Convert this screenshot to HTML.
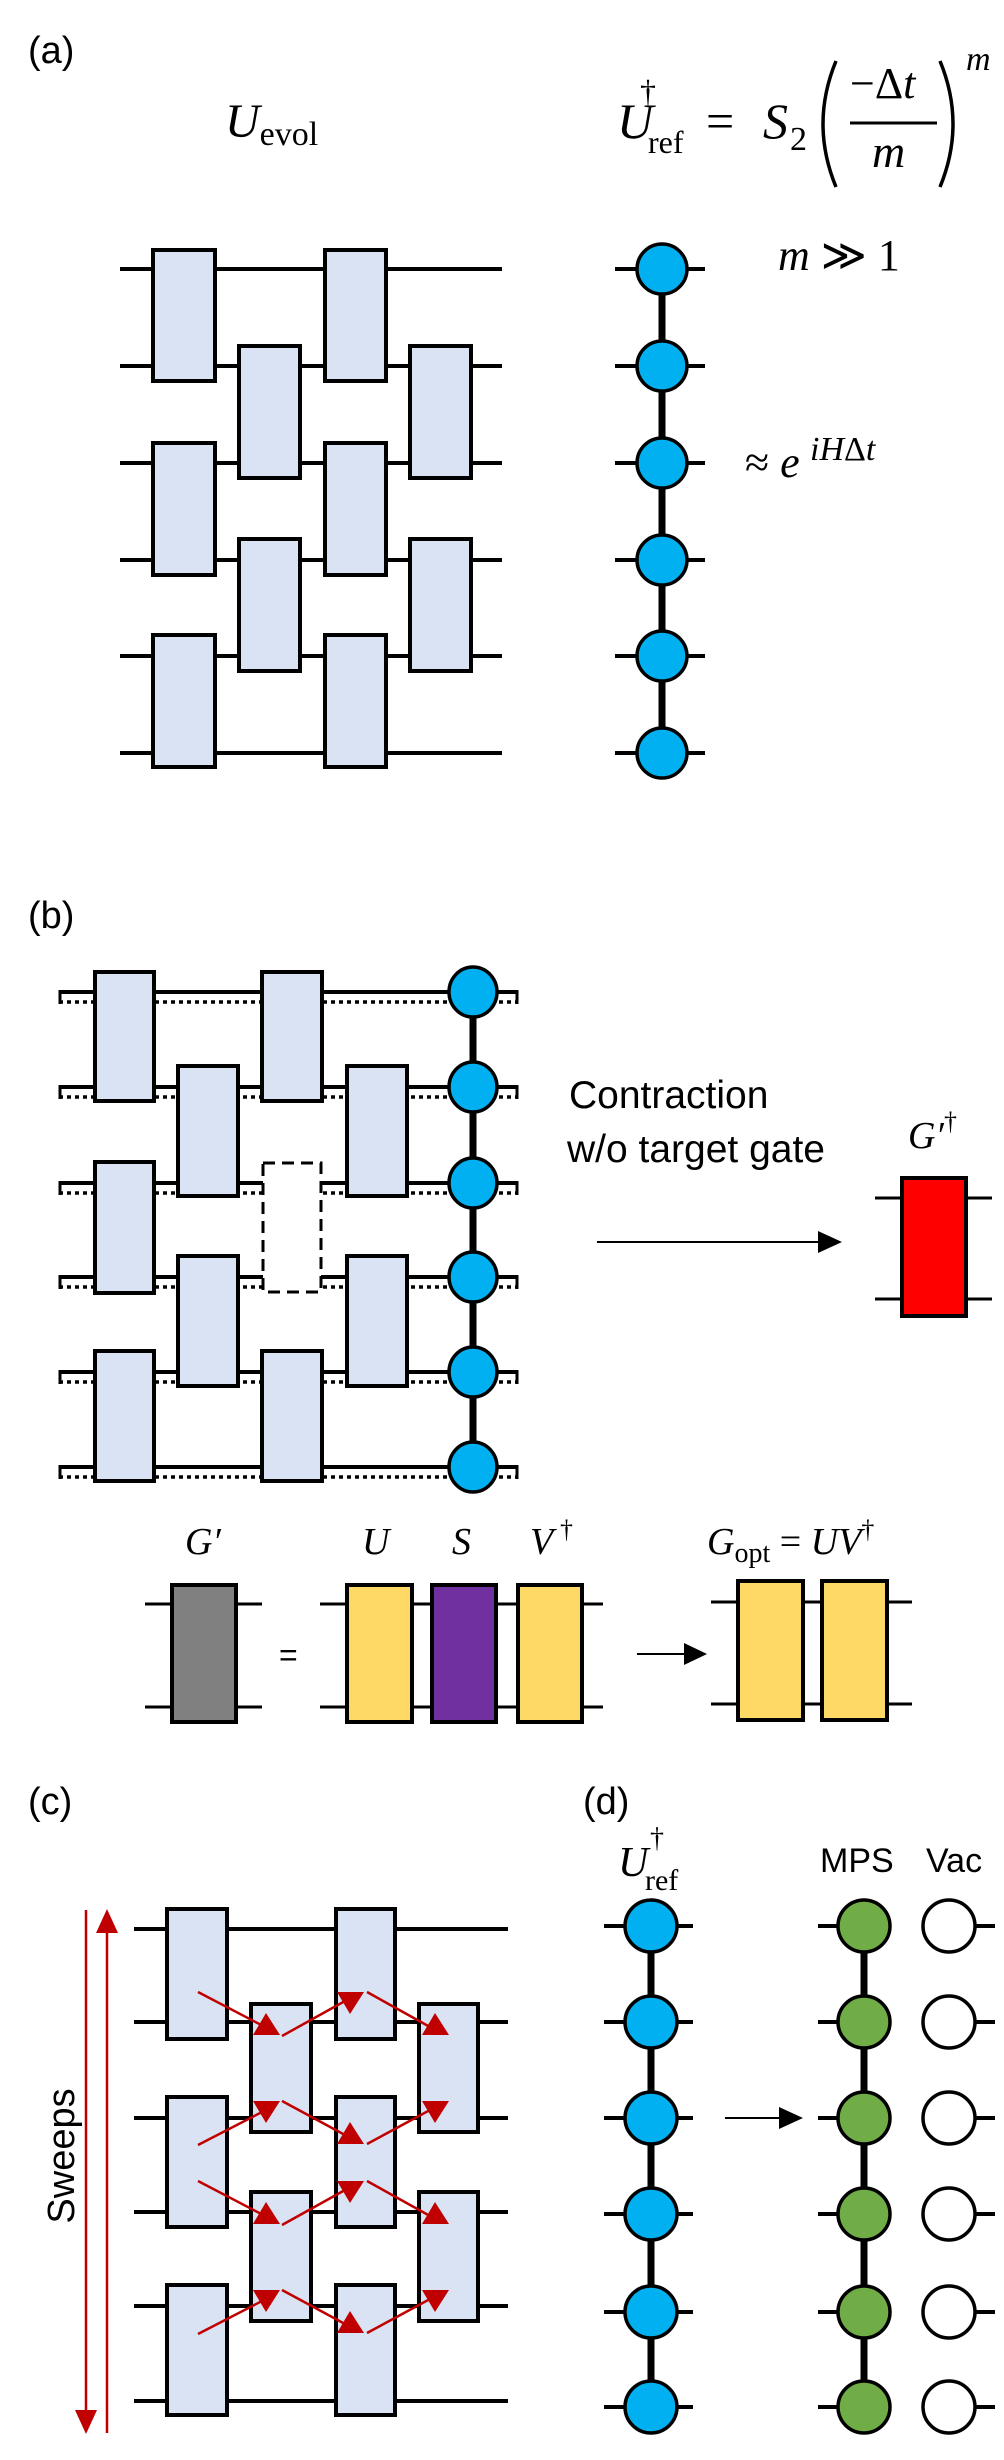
<!DOCTYPE html>
<html><head><meta charset="utf-8"><style>
html,body{margin:0;padding:0;background:#fff}
svg{display:block}
.m{font-family:"Liberation Serif",serif;font-style:italic}
.r{font-family:"Liberation Serif",serif}
.s{font-family:"Liberation Sans",sans-serif}
</style></head><body>
<svg width="1004" height="2460" viewBox="0 0 1004 2460" xmlns="http://www.w3.org/2000/svg">
<g stroke="#000" stroke-width="4" fill="none">
<path d="M120 269H502M120 366H502M120 463H502M120 560H502M120 656H502M120 753H502"/>
</g>
<g stroke="#000" stroke-width="4" fill="#dae3f3">
<rect x="153" y="250" width="62" height="131"/><rect x="325" y="250" width="61" height="131"/>
<rect x="153" y="443" width="62" height="132"/><rect x="325" y="443" width="61" height="132"/>
<rect x="153" y="635" width="62" height="132"/><rect x="325" y="635" width="61" height="132"/>
<rect x="239" y="346" width="61" height="132"/><rect x="410" y="346" width="61" height="132"/>
<rect x="239" y="539" width="61" height="132"/><rect x="410" y="539" width="61" height="132"/>
</g>
<g stroke="#000" stroke-width="4"><path d="M615 269H705M615 366H705M615 463H705M615 560H705M615 656H705M615 753H705"/></g>
<path d="M662 269V753" stroke="#000" stroke-width="7"/>
<g stroke="#000" stroke-width="3.5" fill="#00b0f0">
<ellipse cx="662" cy="269" rx="25" ry="25"/><ellipse cx="662" cy="366" rx="25" ry="25"/><ellipse cx="662" cy="463" rx="25" ry="25"/>
<ellipse cx="662" cy="560" rx="25" ry="25"/><ellipse cx="662" cy="656" rx="25" ry="25"/><ellipse cx="662" cy="753" rx="25" ry="25"/>
</g>
<text x="28" y="63" class="s" font-size="38">(a)</text>
<text x="225" y="137" class="m" font-size="48">U<tspan class="r" font-style="normal" font-size="34" dy="8">evol</tspan></text>
<text x="617" y="138" class="m" font-size="50">U</text>
<text x="640" y="102" class="r" font-size="32">†</text>
<text x="648" y="153" class="r" font-size="32">ref</text>
<text x="706" y="138" class="r" font-size="50">=</text>
<text x="763" y="138" class="m" font-size="50">S</text>
<text x="790" y="150" class="r" font-size="34">2</text>
<path d="M836 61 Q810 124 836 187" stroke="#000" stroke-width="3.5" fill="none"/>
<path d="M940 61 Q966 124 940 187" stroke="#000" stroke-width="3.5" fill="none"/>
<text x="850" y="98" class="r" font-size="44">−Δ<tspan class="m">t</tspan></text>
<path d="M850 123H937" stroke="#000" stroke-width="3"/>
<text x="872" y="167" class="m" font-size="46">m</text>
<text x="966" y="70" class="m" font-size="34">m</text>
<text x="778" y="270" class="m" font-size="44">m <tspan class="r" font-style="normal">≫ 1</tspan></text>
<text x="745" y="477" class="r" font-size="44">≈ <tspan class="m">e</tspan></text>
<text x="810" y="460" class="m" font-size="34">iH<tspan class="r" font-style="normal">Δ</tspan>t</text>

<text x="28" y="928" class="s" font-size="38">(b)</text>
<g stroke="#000" stroke-width="4" fill="none">
<path d="M59 992H518M59 1087H518M59 1183H518M59 1277H518M59 1372H518M59 1467H518"/>
</g>
<g stroke="#000" stroke-width="3.5" fill="none" stroke-dasharray="4 4">
<path d="M59 1002H518M59 1097H518M59 1193H518M59 1287H518M59 1382H518M59 1477H518"/>
</g>
<g stroke="#000" stroke-width="3" fill="none">
<path d="M60 990V1004M60 1085V1099M60 1181V1195M60 1275V1289M60 1370V1384M60 1465V1479"/>
<path d="M517 990V1004M517 1085V1099M517 1181V1195M517 1275V1289M517 1370V1384M517 1465V1479"/>
</g>
<g stroke="#000" stroke-width="4" fill="#dae3f3">
<rect x="95" y="972" width="59" height="129"/><rect x="262" y="972" width="60" height="129"/>
<rect x="95" y="1162" width="59" height="131"/>
<rect x="95" y="1351" width="59" height="130"/><rect x="262" y="1351" width="60" height="130"/>
<rect x="178" y="1066" width="60" height="130"/><rect x="347" y="1066" width="60" height="130"/>
<rect x="178" y="1256" width="60" height="130"/><rect x="347" y="1256" width="60" height="130"/>
</g>
<rect x="263" y="1163" width="58" height="129" fill="#fff" stroke="#000" stroke-width="3" stroke-dasharray="12 7"/>
<path d="M473 992V1467" stroke="#000" stroke-width="7"/>
<g stroke="#000" stroke-width="3.5" fill="#00b0f0">
<ellipse cx="473" cy="992" rx="24" ry="25"/><ellipse cx="473" cy="1087" rx="24" ry="25"/><ellipse cx="473" cy="1183" rx="24" ry="25"/>
<ellipse cx="473" cy="1277" rx="24" ry="25"/><ellipse cx="473" cy="1372" rx="24" ry="25"/><ellipse cx="473" cy="1467" rx="24" ry="25"/>
</g>
<text x="569" y="1108" class="s" font-size="39">Contraction</text>
<text x="567" y="1162" class="s" font-size="39">w/o target gate</text>
<path d="M597 1242H820" stroke="#000" stroke-width="2"/>
<path d="M818 1231L842 1242L818 1253Z" fill="#000"/>
<text x="908" y="1148" class="m" font-size="38">G′</text>
<text x="944" y="1130" class="r" font-size="26">†</text>
<g stroke="#000" stroke-width="3"><path d="M875 1198H992M875 1299H992"/></g>
<rect x="902" y="1178" width="64" height="138" fill="#ff0000" stroke="#000" stroke-width="4"/>

<g stroke="#000" stroke-width="3"><path d="M145 1604H262M145 1707H262M320 1604H603M320 1707H603M711 1602H912M711 1704H912"/></g>
<rect x="172" y="1585" width="64" height="137" fill="#808080" stroke="#000" stroke-width="4"/>
<rect x="347" y="1585" width="65" height="137" fill="#ffd966" stroke="#000" stroke-width="4"/>
<rect x="432" y="1585" width="64" height="137" fill="#7030a0" stroke="#000" stroke-width="4"/>
<rect x="518" y="1585" width="64" height="137" fill="#ffd966" stroke="#000" stroke-width="4"/>
<rect x="738" y="1581" width="65" height="139" fill="#ffd966" stroke="#000" stroke-width="4"/>
<rect x="822" y="1581" width="65" height="139" fill="#ffd966" stroke="#000" stroke-width="4"/>
<text x="185" y="1554" class="m" font-size="38">G′</text>
<text x="279" y="1666" class="s" font-size="32">=</text>
<text x="362" y="1554" class="m" font-size="38">U</text>
<text x="452" y="1554" class="m" font-size="38">S</text>
<text x="530" y="1554" class="m" font-size="38">V</text>
<text x="560" y="1538" class="r" font-size="26">†</text>
<text x="707" y="1554" class="m" font-size="38">G<tspan class="r" font-style="normal" font-size="28" dy="8">opt</tspan><tspan class="r" font-style="normal" dy="-8"> = </tspan>UV<tspan class="r" font-style="normal" font-size="26" dy="-16">†</tspan></text>
<path d="M637 1654H688" stroke="#000" stroke-width="2"/>
<path d="M684 1643L707 1654L684 1665Z" fill="#000"/>

<text x="28" y="1814" class="s" font-size="38">(c)</text>
<g stroke="#000" stroke-width="4" fill="none">
<path d="M134 1929H508M134 2022H508M134 2118H508M134 2212H508M134 2306H508M134 2401H508"/>
</g>
<g stroke="#000" stroke-width="4" fill="#dae3f3">
<rect x="167" y="1909" width="60" height="130"/><rect x="336" y="1909" width="59" height="130"/>
<rect x="167" y="2097" width="60" height="130"/><rect x="336" y="2097" width="59" height="130"/>
<rect x="167" y="2285" width="60" height="130"/><rect x="336" y="2285" width="59" height="130"/>
<rect x="251" y="2004" width="60" height="128"/><rect x="419" y="2004" width="59" height="128"/>
<rect x="251" y="2192" width="60" height="129"/><rect x="419" y="2192" width="59" height="129"/>
</g>
<g id="ra">
<g stroke="#c00000" stroke-width="2.5">
<path d="M198 1992L265 2027M282 2036L345 2001M367 1992L430 2027"/>
<path d="M198 2145L262 2112M282 2101L345 2135M367 2144L430 2110"/>
</g>
<g fill="#c00000">
<path d="M253 2035H280L266 2013Z"/><path d="M337 1992H364L350 2014Z"/><path d="M422 2035H449L435 2013Z"/>
<path d="M253 2101H280L266 2123Z"/><path d="M337 2144H364L350 2122Z"/><path d="M422 2101H449L435 2123Z"/>
</g>
</g>
<use href="#ra" transform="translate(0 189)"/>
<path d="M86 1910V2412" stroke="#c00000" stroke-width="2.5"/>
<path d="M75 2410H97L86 2434Z" fill="#c00000"/>
<path d="M107 1930V2433" stroke="#c00000" stroke-width="2.5"/>
<path d="M96 1933H118L107 1909Z" fill="#c00000"/>
<text transform="translate(74 2156) rotate(-90)" text-anchor="middle" class="s" font-size="38">Sweeps</text>

<text x="583" y="1814" class="s" font-size="38">(d)</text>
<text x="618" y="1876" class="m" font-size="42">U</text>
<text x="650" y="1847" class="r" font-size="28">†</text>
<text x="645" y="1890" class="r" font-size="30">ref</text>
<text x="820" y="1872" class="s" font-size="34">MPS</text>
<text x="926" y="1872" class="s" font-size="34">Vac</text>
<g stroke="#000" stroke-width="4">
<path d="M604 1926H693M604 2022H693M604 2118H693M604 2214H693M604 2312H693M604 2407H693"/>
<path d="M818 1926H864M818 2022H864M818 2118H864M818 2214H864M818 2312H864M818 2407H864"/>
<path d="M949 1926H995M949 2022H995M949 2118H995M949 2214H995M949 2312H995M949 2407H995"/>
</g>
<path d="M651 1926V2407M864 1926V2407" stroke="#000" stroke-width="7"/>
<g stroke="#000" stroke-width="3.5" fill="#00b0f0">
<ellipse cx="651" cy="1926" rx="26" ry="26"/><ellipse cx="651" cy="2022" rx="26" ry="26"/><ellipse cx="651" cy="2118" rx="26" ry="26"/>
<ellipse cx="651" cy="2214" rx="26" ry="26"/><ellipse cx="651" cy="2312" rx="26" ry="26"/><ellipse cx="651" cy="2407" rx="26" ry="26"/>
</g>
<g stroke="#000" stroke-width="3.5" fill="#70ad47">
<ellipse cx="864" cy="1926" rx="26" ry="26"/><ellipse cx="864" cy="2022" rx="26" ry="26"/><ellipse cx="864" cy="2118" rx="26" ry="26"/>
<ellipse cx="864" cy="2214" rx="26" ry="26"/><ellipse cx="864" cy="2312" rx="26" ry="26"/><ellipse cx="864" cy="2407" rx="26" ry="26"/>
</g>
<g stroke="#000" stroke-width="3.5" fill="#fff">
<ellipse cx="949" cy="1926" rx="26" ry="26"/><ellipse cx="949" cy="2022" rx="26" ry="26"/><ellipse cx="949" cy="2118" rx="26" ry="26"/>
<ellipse cx="949" cy="2214" rx="26" ry="26"/><ellipse cx="949" cy="2312" rx="26" ry="26"/><ellipse cx="949" cy="2407" rx="26" ry="26"/>
</g>
<path d="M725 2118H782" stroke="#000" stroke-width="2"/>
<path d="M779 2107L803 2118L779 2129Z" fill="#000"/>
</svg>
</body></html>
